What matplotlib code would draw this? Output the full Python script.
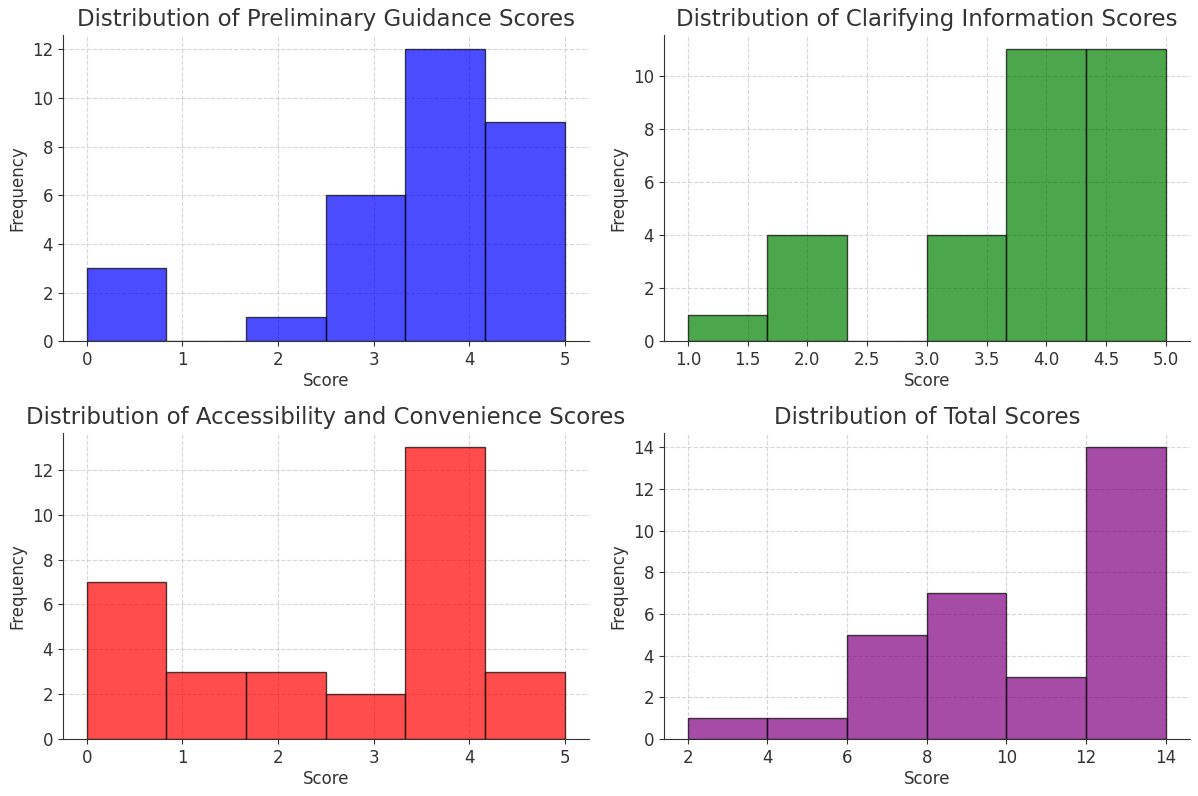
import numpy as np
import matplotlib.pyplot as plt

# bin edges and counts (6 bins per panel)
pg_edges = np.linspace(0, 5, 7)
pg_counts = [3, 0, 1, 6, 12, 9]

ci_edges = np.linspace(1, 5, 7)
ci_counts = [1, 4, 0, 4, 11, 11]

ac_edges = np.linspace(0, 5, 7)
ac_counts = [7, 3, 3, 2, 13, 3]

tot_edges = np.linspace(2, 14, 7)
tot_counts = [1, 1, 5, 7, 3, 14]

panels = [
    ('Distribution of Preliminary Guidance Scores', pg_edges, pg_counts, 'blue'),
    ('Distribution of Clarifying Information Scores', ci_edges, ci_counts, 'green'),
    ('Distribution of Accessibility and Convenience Scores', ac_edges, ac_counts, 'red'),
    ('Distribution of Total Scores', tot_edges, tot_counts, 'purple'),
]

fig, axes = plt.subplots(2, 2, figsize=(11.98, 7.96), dpi=100)

for ax, (title, edges, counts, color) in zip(axes.flat, panels):
    ax.hist(edges[:-1], bins=edges, weights=counts, color=color,
            alpha=0.7, edgecolor='black')
    ax.set_title(title, fontsize=16.5, color='#333333')
    ax.set_xlabel('Score', fontsize=12, color='#333333', labelpad=2)
    ax.set_ylabel('Frequency', fontsize=12, color='#333333')
    ax.tick_params(labelsize=12, colors='#333333')
    ax.grid(True, linestyle='--', color='#cccccc', alpha=0.8)
    ax.set_axisbelow(True)
    ax.spines['top'].set_visible(False)
    ax.spines['right'].set_visible(False)
    ax.spines['left'].set_color('#333333')
    ax.spines['bottom'].set_color('#333333')

plt.tight_layout(pad=0.6, h_pad=1.2, w_pad=1.5)
plt.savefig('out.png')
